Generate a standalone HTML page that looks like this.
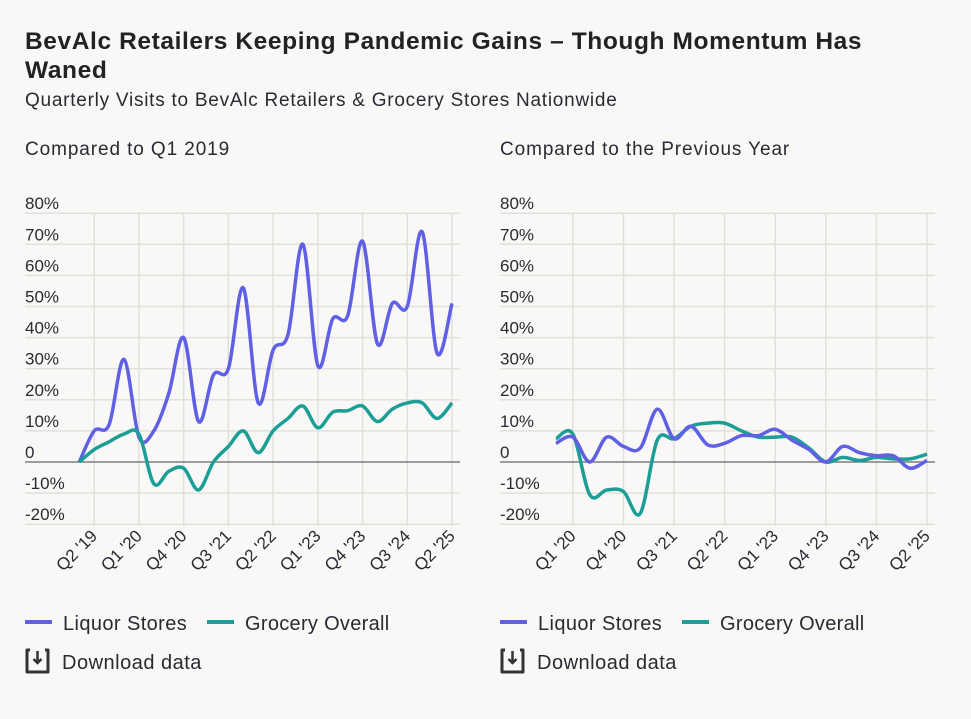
<!DOCTYPE html>
<html><head><meta charset="utf-8"><style>
body{margin:0;background:#f9f8f6;font-family:"Liberation Sans",sans-serif;color:#2a2a33;}
#wrap{position:relative;width:971px;height:719px;overflow:hidden;}
.t{position:absolute;white-space:nowrap;}
</style></head><body><div id="wrap">
<div class="t" style="left:25px;top:27px;font-size:24.5px;font-weight:bold;line-height:29px;color:#222;letter-spacing:0.6px">BevAlc Retailers Keeping Pandemic Gains – Though Momentum Has<br>Waned</div>
<div class="t" style="left:25px;top:90px;font-size:19px;letter-spacing:0.75px">Quarterly Visits to BevAlc Retailers &amp; Grocery Stores Nationwide</div>
<div class="t" style="left:25px;top:139px;font-size:19px;letter-spacing:0.9px">Compared to Q1 2019</div>
<div class="t" style="left:500px;top:139px;font-size:19px;letter-spacing:0.9px">Compared to the Previous Year</div>
<svg id="svg" width="971" height="719" style="position:absolute;left:0;top:0"></svg>
</div>
<script>
const leftQuarters=["Q1 '19","Q2 '19","Q3 '19","Q4 '19","Q1 '20","Q2 '20","Q3 '20","Q4 '20","Q1 '21","Q2 '21","Q3 '21","Q4 '21","Q1 '22","Q2 '22","Q3 '22","Q4 '22","Q1 '23","Q2 '23","Q3 '23","Q4 '23","Q1 '24","Q2 '24","Q3 '24","Q4 '24","Q1 '25","Q2 '25"];
const leftLiquor=[0,10,12,33,8,10,22,40,13,28,30,56,19,36,41,70,31,46,47,71,38,51,50,74,35,51];
const leftGrocery=[0,4,6.5,9,9,-7,-3,-2,-9,0,5,10,3,10,14,18,11,16,16.5,18,13,17,19,19,14,19];
const leftTicks=["Q2 '19","Q1 '20","Q4 '20","Q3 '21","Q2 '22","Q1 '23","Q4 '23","Q3 '24","Q2 '25"];
const rightQuarters=["Q4 '19","Q1 '20","Q2 '20","Q3 '20","Q4 '20","Q1 '21","Q2 '21","Q3 '21","Q4 '21","Q1 '22","Q2 '22","Q3 '22","Q4 '22","Q1 '23","Q2 '23","Q3 '23","Q4 '23","Q1 '24","Q2 '24","Q3 '24","Q4 '24","Q1 '25","Q2 '25"];
const rightLiquor=[6,8,0,8,5,4.5,17,7.5,11.5,5.5,6,8.5,8.5,10.5,7,4,0,5,3,2,2,-2,0.5];
const rightGrocery=[7.5,9,-10.5,-9,-9.5,-16.5,7,7.5,11.5,12.5,12.5,10,8,8,8,4.5,0,1.5,0.5,1.5,1,1,2.5];
const rightTicks=["Q1 '20","Q4 '20","Q3 '21","Q2 '22","Q1 '23","Q4 '23","Q3 '24","Q2 '25"];
const yTicks=[80,70,60,50,40,30,20,10,0,-10,-20];

const NS="http://www.w3.org/2000/svg";
const svg=document.getElementById('svg');
function mk(tag,attrs,parent){const e=document.createElementNS(NS,tag);for(const k in attrs)e.setAttribute(k,attrs[k]);(parent||svg).appendChild(e);return e;}
const yScale=v=>462-v*3.11;
function path(pts){let d=`M${pts[0][0]},${pts[0][1]}`;for(let i=0;i<pts.length-1;i++){const p0=pts[i-1]||pts[i],p1=pts[i],p2=pts[i+1],p3=pts[i+2]||p2;const t=6;
d+=` C${p1[0]+(p2[0]-p0[0])/t},${p1[1]+(p2[1]-p0[1])/t} ${p2[0]-(p3[0]-p1[0])/t},${p2[1]-(p3[1]-p1[1])/t} ${p2[0]},${p2[1]}`;}return d;}
function panel(name,x0,x1,gx0,gx1,cats,liq,gro,ticks){
  const xScale=i=>x0+(x1-x0)*i/(cats.length-1);
  const g=mk('g',{});
  
  
  yTicks.forEach(v=>{
    const y=yScale(v);
    if(v!==0){const l=mk('line',{x1:gx0,x2:gx1,y1:y,y2:y,stroke:'#e2e0dd','stroke-width':1.5},g);
    }
    const t=mk('text',{x:gx0,y:y-4,'font-size':17,fill:'#2a2a33'},g);t.textContent=v===0?'0':v+'%';
    
  });
  ticks.forEach(tk=>{
    const i=cats.indexOf(tk);const x=xScale(i);
    const l=mk('line',{x1:x,x2:x,y1:213,y2:526,stroke:'#e2e0dd','stroke-width':1.5},g);
    
    const t=mk('text',{x:x+4,y:537,'font-size':17,fill:'#2a2a33','text-anchor':'end',transform:`rotate(-45 ${x+4} 537)`},g);t.textContent=tk;
    
  });
  const z=mk('line',{x1:gx0,x2:gx1,y1:462,y2:462,stroke:'#666','stroke-width':1.2},g);
  
  const pg=mk('path',{d:path(gro.map((v,i)=>[xScale(i),yScale(v)])),fill:'none',stroke:'#1b9e96','stroke-width':3.5,'stroke-linejoin':'round'},g);
  
  const pl=mk('path',{d:path(liq.map((v,i)=>[xScale(i),yScale(v)])),fill:'none',stroke:'#5f60e4','stroke-width':3.5,'stroke-linejoin':'round'},g);
  
  if(name==='left-chart'){pg.parentNode.insertBefore(pl,pg);}
}
panel('left-chart',79.3,452,25,460,leftQuarters,leftLiquor,leftGrocery,leftTicks);
panel('right-chart',556,927,500,935,rightQuarters,rightLiquor,rightGrocery,rightTicks);
function legend(x,pre){
  const g=mk('g',{});
  
  const a=mk('line',{x1:x,x2:x+27,y1:622,y2:622,stroke:'#5f60e4','stroke-width':4},g);
  
  const t1=mk('text',{x:x+38,y:630,'font-size':20,fill:'#2a2a33','letter-spacing':0.4},g);t1.textContent='Liquor Stores';
  
  const b=mk('line',{x1:x+182,x2:x+209,y1:622,y2:622,stroke:'#1b9e96','stroke-width':4},g);
  
  const t2=mk('text',{x:x+220,y:630,'font-size':20,fill:'#2a2a33','letter-spacing':0.3},g);t2.textContent='Grocery Overall';
  
  const d=mk('g',{},g);
  
  mk('path',{d:`M${x+5},650 h-3 v22 h21 v-22 h-3`,fill:'none',stroke:'#333','stroke-width':3,'stroke-linejoin':'round'},d);
  mk('path',{d:`M${x+12.5},651 v11 M${x+8.5},659 l4,4 l4,-4`,fill:'none',stroke:'#333','stroke-width':2.5},d);
  const t3=mk('text',{x:x+37,y:669,'font-size':20,fill:'#2a2a33','letter-spacing':0.5},d);t3.textContent='Download data';
  
}
legend(25,'left');legend(500,'right');
</script></body></html>
